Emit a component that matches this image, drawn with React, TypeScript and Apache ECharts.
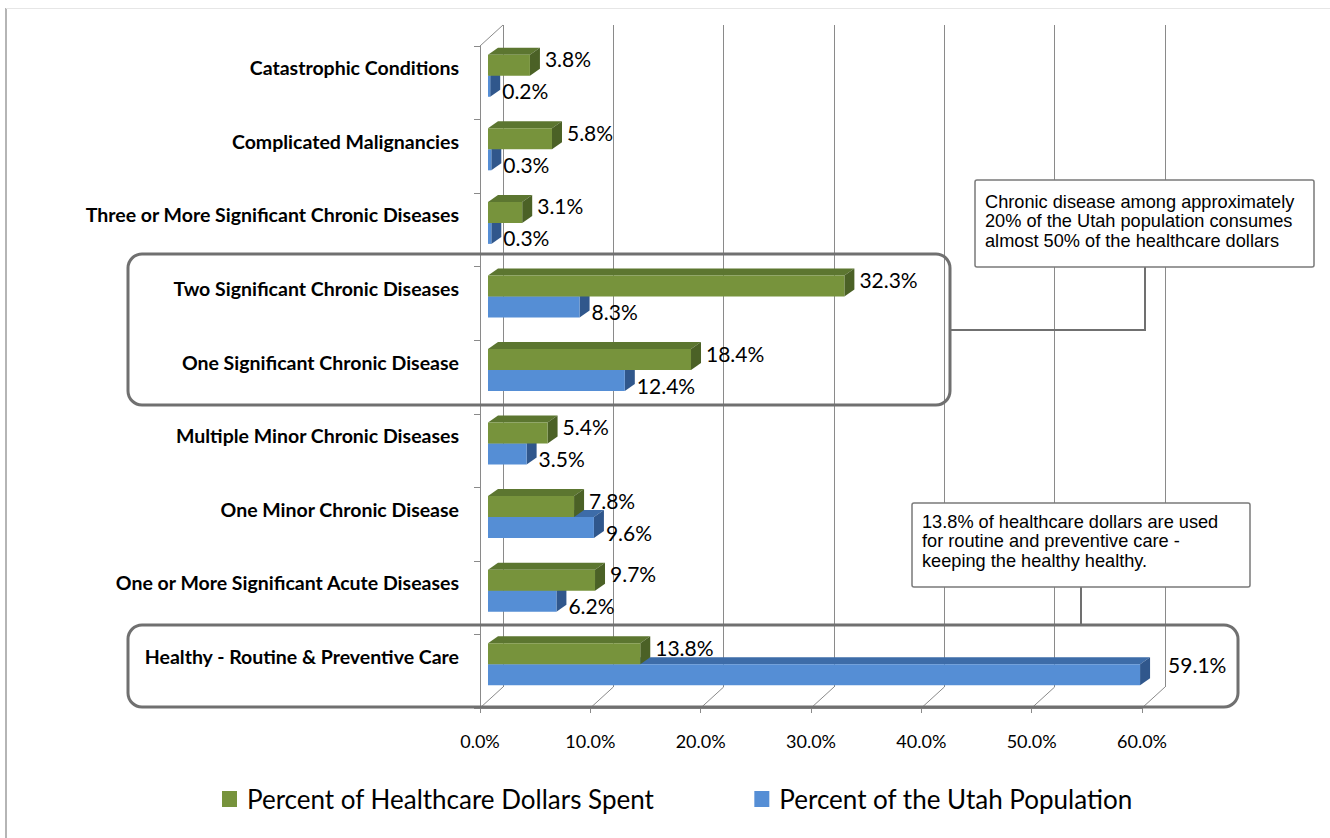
import React, { useEffect, useRef } from "react";
import * as echarts from "echarts";

const categories = [
  "Catastrophic Conditions",
  "Complicated Malignancies",
  "Three or More Significant Chronic Diseases",
  "Two Significant Chronic Diseases",
  "One Significant Chronic Disease",
  "Multiple Minor Chronic Diseases",
  "One Minor Chronic Disease",
  "One or More Significant Acute Diseases",
  "Healthy - Routine & Preventive Care",
];
const dollarsSpent = [3.8, 5.8, 3.1, 32.3, 18.4, 5.4, 7.8, 9.7, 13.8];
const utahPopulation = [0.2, 0.3, 0.3, 8.3, 12.4, 3.5, 9.6, 6.2, 59.1];
const xTicks = [0, 10, 20, 30, 40, 50, 60];

const seriesNames = ["Percent of Healthcare Dollars Spent", "Percent of the Utah Population"];
const note1 = "Chronic disease among approximately\n20% of the Utah population consumes\nalmost 50% of the healthcare dollars";
const note2 = "13.8% of healthcare dollars are used\nfor routine and preventive care -\nkeeping the healthy healthy.";

const GREEN = { front: "#77933C", top: "#5C7630", side: "#4B6126" };
const BLUE = { front: "#558ED5", top: "#3D6CA8", side: "#30578C" };
const DX = 10;
const DY = 7;
const BH = 21;

function barRenderer(colors: any, upper: boolean) {
  return (params: any, api: any) => {
    const v = api.value(0);
    const i = api.value(1);
    const o = api.coord([0, i]);
    const e = api.coord([v, i]);
    const axisEnd = api.coord([60, i])[0];
    const c = o[1] - 7;
    const x0 = o[0] + 8;
    const xe = e[0] + 8;
    const yt = upper ? c - BH : c;
    const yb = upper ? c : c + BH;
    const label = v.toFixed(1) + "%";
    const nearWall = e[0] + 70 > axisEnd;
    let lx = upper ? xe + 15 : xe + 12;
    let ly = upper ? c - 17 : c + 15;
    if (nearWall) {
      lx = xe + 28;
      ly = upper ? c - 17 : c;
    }
    return {
      type: "group",
      children: [
        {
          type: "polygon",
          shape: { points: [[x0, yt], [xe, yt], [xe + DX, yt - DY], [x0 + DX, yt - DY]] },
          style: { fill: colors.top },
        },
        {
          type: "polygon",
          shape: { points: [[xe, yt], [xe, yb], [xe + DX, yb - DY], [xe + DX, yt - DY]] },
          style: { fill: colors.side },
        },
        {
          type: "rect",
          shape: { x: x0, y: yt, width: xe - x0, height: yb - yt },
          style: { fill: colors.front },
        },
        {
          type: "text",
          style: {
            text: label,
            x: lx,
            y: ly,
            verticalAlign: "middle",
            align: "left",
            fontSize: 21,
            fontFamily: "Lato",
            fill: "#000",
          },
        },
      ],
    };
  };
}

export default function App() {
  const ref = useRef<HTMLDivElement>(null);
  useEffect(() => {
    if (!ref.current) return;
    const chart = echarts.init(ref.current, null, { renderer: "svg" });
    const gridColor = "#8a8a8a";
    const option: any = {
      animation: false,
      backgroundColor: "#ffffff",
      grid: [
        { left: 480, top: 46, width: 662, height: 662 },
        { left: 503, top: 25, width: 662, height: 662 },
        { left: 480, top: 31, width: 662, height: 662 },
      ],
      xAxis: [
        {
          type: "value",
          gridIndex: 0,
          min: 0,
          max: 60,
          interval: 10,
          axisLine: { show: true, lineStyle: { color: gridColor, width: 1 } },
          axisTick: { show: true, length: 5, lineStyle: { color: gridColor } },
          splitLine: { show: false },
          axisLabel: {
            margin: 24,
            formatter: (v: number) => v.toFixed(1) + "%",
            fontSize: 18,
            fontFamily: "Lato",
            color: "#000",
          },
        },
        {
          type: "value",
          gridIndex: 1,
          min: 0,
          max: 60,
          interval: 10,
          axisLine: { show: false },
          axisTick: { show: false },
          axisLabel: { show: false },
          splitLine: { show: true, lineStyle: { color: gridColor, width: 1 } },
        },
        {
          type: "value",
          gridIndex: 2,
          min: 0,
          max: 60,
          show: false,
        },
      ],
      yAxis: [
        {
          type: "category",
          gridIndex: 0,
          inverse: true,
          data: categories,
          axisLine: { show: true, lineStyle: { color: gridColor, width: 1 } },
          axisTick: { show: true, length: 6, lineStyle: { color: gridColor } },
          axisLabel: { show: false },
        },
        {
          type: "category",
          gridIndex: 1,
          inverse: true,
          data: categories,
          axisLine: { show: false },
          axisTick: { show: false },
          axisLabel: { show: false },
        },
        {
          type: "category",
          gridIndex: 2,
          inverse: true,
          data: categories,
          axisLine: { show: false },
          axisTick: { show: false },
          axisLabel: {
            margin: 21,
            fontSize: 19.5,
            fontWeight: "bold",
            fontFamily: "Lato",
            color: "#000",
          },
        },
      ],
      legend: {
        data: seriesNames,
        left: 217,
        top: 781,
        icon: "rect",
        itemWidth: 15,
        itemHeight: 16,
        itemGap: 100,
        textStyle: { fontSize: 26, fontFamily: "Lato", color: "#000", padding: [0, 0, 0, 5] },
      },
      series: [
        {
          type: "custom",
          name: "floor",
          xAxisIndex: 0,
          yAxisIndex: 0,
          silent: true,
          clip: false,
          z: 1,
          data: xTicks.map((t) => [t, 0]),
          renderItem: (params: any, api: any) => {
            const v = api.value(0);
            const cs = params.coordSys;
            const x = api.coord([v, 0])[0];
            const yb = cs.y + cs.height;
            const children: any[] = [
              {
                type: "line",
                shape: { x1: x, y1: yb, x2: x + 23, y2: yb - 21 },
                style: { stroke: gridColor, lineWidth: 1 },
              },
            ];
            if (v === 0) {
              children.push({
                type: "line",
                shape: { x1: x, y1: cs.y, x2: x + 23, y2: cs.y - 21 },
                style: { stroke: gridColor, lineWidth: 1 },
              });
            }
            return { type: "group", children };
          },
        },
        {
          type: "custom",
          name: seriesNames[1],
          xAxisIndex: 0,
          yAxisIndex: 0,
          clip: false,
          z: 2,
          itemStyle: { color: BLUE.front },
          data: utahPopulation.map((v, i) => [v, i]),
          encode: { x: 0, y: 1 },
          renderItem: barRenderer(BLUE, false),
        },
        {
          type: "custom",
          name: seriesNames[0],
          xAxisIndex: 0,
          yAxisIndex: 0,
          clip: false,
          z: 3,
          itemStyle: { color: GREEN.front },
          data: dollarsSpent.map((v, i) => [v, i]),
          encode: { x: 0, y: 1 },
          renderItem: barRenderer(GREEN, true),
        },
      ],
      graphic: [
        { type: "line", z: 100, shape: { x1: 6, y1: 8, x2: 6, y2: 838 }, style: { stroke: "#b5b5b5", lineWidth: 2 } },
        { type: "line", z: 100, shape: { x1: 6, y1: 8.5, x2: 1330, y2: 8.5 }, style: { stroke: "#e6e6e6", lineWidth: 1 } },
        {
          type: "rect",
          z: 100,
          shape: { x: 128, y: 254, width: 822, height: 151, r: 14 },
          style: { fill: "none", stroke: "#707070", lineWidth: 3 },
        },
        {
          type: "rect",
          z: 100,
          shape: { x: 128, y: 625, width: 1110, height: 82, r: 14 },
          style: { fill: "none", stroke: "#707070", lineWidth: 3 },
        },
        {
          type: "polyline",
          z: 100,
          shape: { points: [[1145, 267], [1145, 330], [951, 330]] },
          style: { fill: "none", stroke: "#707070", lineWidth: 2 },
        },
        {
          type: "line",
          z: 100,
          shape: { x1: 1081, y1: 587, x2: 1081, y2: 624 },
          style: { stroke: "#707070", lineWidth: 2 },
        },
        {
          type: "rect",
          z: 101,
          shape: { x: 975, y: 180, width: 339, height: 87, r: 2 },
          style: { fill: "#ffffff", stroke: "#7a7a7a", lineWidth: 1.5 },
        },
        {
          type: "text",
          z: 102,
          x: 985,
          y: 192,
          style: {
            text: note1,
            fontSize: 18.2,
            lineHeight: 19.5,
            fontFamily: "Liberation Sans",
            fill: "#000",
          },
        },
        {
          type: "rect",
          z: 101,
          shape: { x: 912, y: 503, width: 338, height: 84, r: 2 },
          style: { fill: "#ffffff", stroke: "#7a7a7a", lineWidth: 1.5 },
        },
        {
          type: "text",
          z: 102,
          x: 922,
          y: 512,
          style: {
            text: note2,
            fontSize: 18.2,
            lineHeight: 19.5,
            fontFamily: "Liberation Sans",
            fill: "#000",
          },
        },
      ],
    };
    chart.setOption(option);
    return () => chart.dispose();
  }, []);
  return (
    <div
      ref={ref}
      style={{ position: "fixed", left: 0, top: 0, width: 1330, height: 838 }}
    />
  );
}
